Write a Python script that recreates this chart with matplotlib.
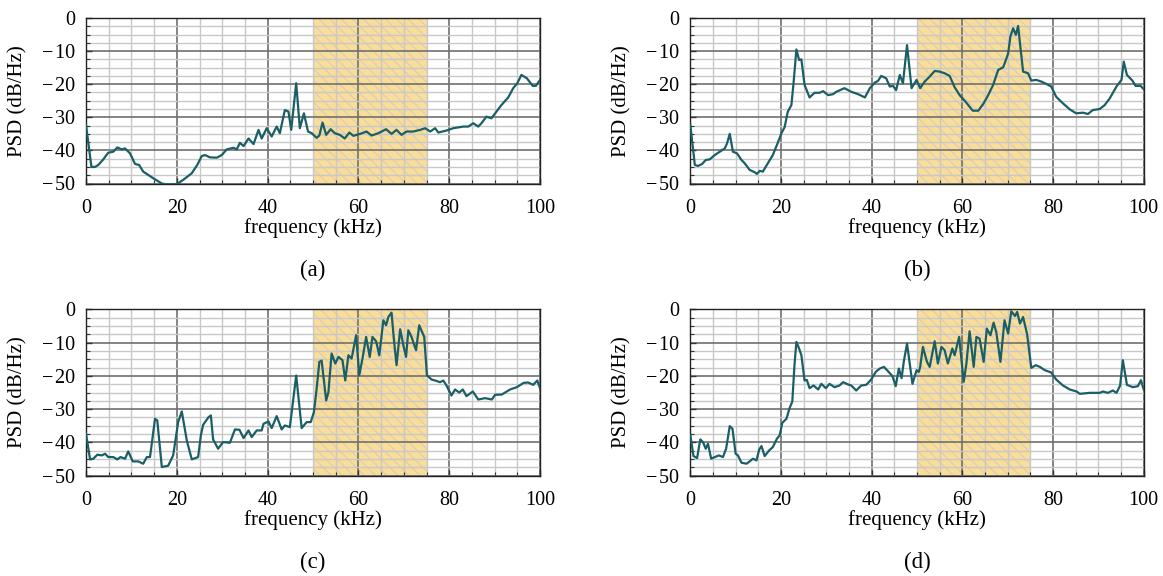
import matplotlib
matplotlib.use("Agg")
import matplotlib.pyplot as plt
from matplotlib.ticker import MultipleLocator
import numpy as np

plt.rcParams['font.family'] = ['Liberation Serif', 'DejaVu Serif']
plt.rcParams['hatch.linewidth'] = 0.8
plt.rcParams['axes.unicode_minus'] = True

# ---------------- data ----------------
freq_a = [0, 1.2, 2, 2.7, 3.7, 4.9, 6, 6.9, 7.9, 8.6, 9.7, 10.8, 11.7, 12.6, 14.8, 16.7, 17.8, 20,
          21.4, 23.3, 24.5, 25.5, 26.2, 27.3, 28.8, 29.9, 31, 32.5, 33.2, 33.9, 34.7, 35.8, 36.9,
          38, 38.7, 39.8, 40.9, 42, 42.7, 43.8, 44.6, 45.2, 46.3, 47.1, 48.0, 48.9, 49.7, 50.8,
          51.4, 52.1, 52.9, 53.9, 54.8, 55.9, 57.0, 58.0, 58.9, 60.4, 61.8, 62.9, 64.4, 66.1,
          67.3, 68.4, 69.5, 70.6, 72.1, 73.6, 74.7, 75.8, 76.9, 77.6, 79.4, 80.9, 83.1, 84.2,
          85.3, 86.4, 87.1, 88.2, 89.3, 90.4, 91.5, 93, 94.1, 95, 95.9, 97.1, 98.4, 99.1, 100]
psd_a = [-32.3, -45, -45, -44.4, -42.9, -40.7, -40.4, -39.1, -39.7, -39.4, -40.9, -44.1, -44.4,
         -46.4, -48.4, -50, -50.3, -50.2, -48.9, -46.9, -44.4, -41.7, -41.4, -42.1, -42.2, -41.4,
         -39.7, -39.2, -39.7, -37.7, -38.7, -36.4, -38.1, -33.8, -36.4, -33.3, -35.8, -32.8,
         -34.8, -27.8, -28.3, -33.8, -19.7, -33.3, -28.8, -34.3, -34.8, -36.2, -35.5, -31.6,
         -35.3, -33.6, -34.8, -35.3, -36.4, -34.6, -35.6, -35, -34.3, -35.5, -34.8, -33.6, -35,
         -33.8, -35.3, -34.3, -34.3, -33.8, -33.3, -34.3, -33.3, -34.6, -34, -33.3, -32.8,
         -32.8, -31.8, -32.8, -31.8, -29.8, -30.3, -28.3, -26.3, -24, -21.2, -19.7, -17.2,
         -18.2, -20.5, -20.5, -18.7]

freq_b = [0, 1, 1.7, 2.6, 3.4, 4.3, 5.4, 6.5, 7.6, 8.1, 8.7, 9.4, 10.3, 11.3, 12, 13.1, 14.2,
          14.7, 15.3, 16, 17.1, 18.2, 19.3, 20.1, 20.8, 21.5, 22.3, 22.8, 23.4, 24, 24.5, 25.2,
          26.3, 27.4, 28.5, 29.3, 30.4, 31.5, 32.2, 34, 35.5, 37, 38.5, 39.6, 40.7, 41.4, 42.1,
          43.2, 44, 44.7, 45.4, 46.2, 46.9, 47.8, 48.8, 49.9, 50.7, 51.7, 52.8, 53.9, 55, 56.1,
          57.2, 58.3, 59.4, 60.9, 62.3, 63.5, 64.6, 65.7, 66.8, 67.9, 69, 69.6, 70.1, 70.6, 71.2,
          71.8, 72.3, 72.8, 73.4, 74.5, 75.2, 76.3, 77.4, 78.5, 79.6, 80.7, 82.2, 83.7, 85.1,
          86.6, 87.7, 88.8, 90.3, 91.4, 92.5, 94, 95.1, 95.6, 96.3, 97.5, 98.2, 99.3, 100]
psd_b = [-32.3, -44.4, -44.7, -44.1, -42.9, -42.7, -41.4, -40.4, -39.4, -37.9, -35, -40.4,
         -40.9, -42.9, -43.9, -45.9, -46.6, -47.1, -46.2, -46.4, -43.9, -41.4, -37.7, -34.8,
         -33, -28.3, -26.3, -19.2, -9.5, -12.7, -12.5, -20.2, -24, -22.6, -22.6, -22.1, -23.3,
         -23, -22.3, -21.2, -22.3, -23, -24, -21.2, -19.5, -19, -17.5, -18.2, -20.7, -20.5,
         -21.8, -17.2, -19.7, -8.2, -21.2, -18.7, -21.2, -19.2, -17.7, -16, -16.2, -16.7, -17.5,
         -20.9, -23.3, -25.6, -28, -28, -26, -23.3, -20.2, -15.7, -14.9, -12.7, -10.7, -5.6,
         -3.1, -5.1, -2.4, -8.7, -16.2, -16.7, -18.9, -18.7, -19.2, -19.9, -20.7, -23.8, -25.8,
         -27.6, -28.8, -28.6, -29, -27.8, -27.5, -26.3, -24.3, -20.7, -18.7, -13.2, -17.2,
         -18.9, -20.5, -20.5, -21.5]

freq_c = [0, 0.9, 1.6, 2.5, 3.5, 4.2, 4.9, 6, 6.9, 7.6, 8.6, 9.3, 10.3, 11.5, 12.6, 13.4, 14.1,
          15.2, 15.7, 16.7, 18.1, 19.2, 20.3, 21.1, 22.2, 23.3, 24.7, 25.3, 25.8, 27, 27.5, 28,
          29.1, 30.2, 31.7, 32.8, 33.8, 34.7, 35.8, 36.5, 37.6, 38.7, 39.1, 40.2, 40.9, 42,
          43.1, 43.8, 44.9, 46.3, 47.5, 48.6, 49.5, 50.2, 50.8, 51.4, 51.9, 52.9, 53.4, 54.1,
          54.9, 55.6, 56.5, 57.1, 57.8, 58.5, 59.5, 60.2, 60.9, 61.7, 62.5, 63.1, 63.9, 64.6,
          65.5, 66.1, 66.6, 67.3, 67.8, 68.4, 69.2, 69.9, 70.5, 71, 71.7, 72.7, 73.4, 74.5,
          75.1, 76.1, 76.9, 78, 78.7, 79.4, 80.5, 81.3, 82.2, 83, 83.8, 85.2, 86.4, 87.9, 89.4,
          90.1, 91.6, 93.4, 94.9, 96.4, 97.4, 98.5, 99.4, 100]
psd_c = [-37.4, -45.1, -44.9, -43.7, -43.9, -43.4, -44.4, -44.4, -45.1, -44.4, -44.9, -42.7,
         -45.7, -45.7, -46.4, -44.4, -44.4, -32.9, -33.4, -47.4, -47, -43.9, -33.9, -30.7,
         -39.4, -45.1, -44.4, -37.9, -34.7, -32.4, -31.9, -39.1, -41.9, -39.9, -40.1, -36.1,
         -36.2, -38.7, -36.4, -38.4, -36.4, -36.4, -34.4, -33.7, -35.7, -32.1, -36.1, -34.9,
         -35.4, -19.9, -35.7, -33.9, -33.9, -30.9, -23.9, -15.8, -15.4, -27.4, -24.9, -13.3,
         -16.3, -14.3, -15.3, -21.4, -13.8, -14.8, -7.8, -19.8, -14.8, -8.3, -14.3, -8.3, -9.6,
         -13.8, -3.3, -4.8, -2.3, -1, -8.8, -16.8, -6, -10.8, -14.3, -6.3, -8.3, -12.3, -4.8,
         -8.3, -19.8, -21.1, -21.4, -21.9, -21.4, -22.9, -25.9, -24.1, -25, -24.1, -26.1, -24.7,
         -27.1, -26.7, -27.1, -25.7, -25.6, -24.1, -23.4, -22.1, -22, -22.7, -21.4, -23.7]

freq_d = [0, 0.7, 1.5, 2.2, 2.8, 3.4, 3.9, 4.6, 5.4, 6.3, 7.2, 7.9, 8.7, 9.3, 10, 10.5, 11.3,
          12.4, 13.1, 13.8, 14.6, 15.2, 15.7, 16.4, 17.4, 18.2, 19.1, 19.7, 20.3, 21.2, 21.9,
          22.5, 23, 23.4, 24, 24.5, 25.2, 25.7, 26.3, 27.2, 28.2, 28.9, 29.9, 30.7, 31.8, 32.9,
          33.7, 34.8, 35.5, 36.6, 37.7, 38.8, 39.9, 40.9, 41.8, 42.7, 43.6, 44.6, 45.3, 46,
          46.6, 47.1, 47.8, 49, 49.9, 50.4, 50.7, 51.3, 52.2, 52.8, 53.9, 54.6, 55.4, 56.1,
          56.8, 57.8, 58.3, 59.3, 60.3, 60.9, 61.6, 62.5, 63.1, 63.8, 64.7, 65.4, 66.2, 66.9,
          67.5, 68.4, 69.3, 70.1, 70.8, 71.6, 72.1, 72.7, 73.4, 74.3, 75.2, 76.2, 77.1, 78.2,
          79.6, 80.7, 82.2, 83.7, 85.2, 85.9, 88.1, 90.3, 91, 92.1, 93.2, 94, 94.8, 95.4, 96.3,
          97.6, 98.7, 99.4, 100]
psd_d = [-37.7, -44.1, -44.7, -39.1, -39.9, -41.9, -40.4, -44.9, -44.4, -43.9, -44.4, -41.9,
         -35.1, -35.9, -43.4, -43.9, -46.1, -46.4, -45.7, -44.9, -45.4, -42.1, -41.1, -44.1,
         -42.4, -41.4, -38.9, -37.9, -34.1, -32.9, -29.7, -27.7, -16.3, -9.8, -11.8, -13.8,
         -21.4, -21.2, -23.7, -22.9, -24.1, -22.4, -23.7, -22.4, -23.4, -22.9, -21.9, -22.6,
         -22.9, -24.4, -22.9, -22.7, -21.1, -18.8, -17.8, -17.3, -18.6, -20.1, -23.1, -17.8,
         -20.7, -15.6, -10.3, -22.4, -18.3, -18.8, -17.3, -11.3, -15.8, -17.3, -9.6, -16.3,
         -11.3, -12.3, -16.3, -11.8, -13.8, -8.3, -21.8, -16.3, -6.6, -17.3, -8.3, -8.8, -15.8,
         -5.8, -7.8, -4, -7, -15.8, -3.3, -7.3, -0.6, -2, -0.8, -4.3, -2.3, -7.6, -17.6, -16.8,
         -17.3, -18.3, -19, -21.1, -22.9, -24.1, -24.7, -25.4, -25.1, -25.1, -24.7, -25.1,
         -24.4, -25.1, -22.9, -15.3, -22.7, -23.4, -23.1, -21.3, -24.1]

band = (50, 75)
x_ticks = [0, 20, 40, 60, 80, 100]
y_ticks = [0, -10, -20, -30, -40, -50]
y_ticklabels = ['0', '\u2212\u200a10', '\u2212\u200a20', '\u2212\u200a30', '\u2212\u200a40', '\u2212\u200a50']
panel_labels = ['(a)', '(b)', '(c)', '(d)']

# ---------------- styling ----------------
W, H = 1163, 576
fig = plt.figure(figsize=(W / 100, H / 100), dpi=100)
line_color = '#1a5f66'
fill_color = '#f9de98'
hatch_color = '#dcc8c4'
fs = 14.5

boxes = [(86, 18, 540, 183.5), (690.3, 18, 1143.7, 183.5),
         (86, 309.3, 540, 475.7), (690.3, 309.3, 1143.7, 475.7)]
series = [(freq_a, psd_a), (freq_b, psd_b), (freq_c, psd_c), (freq_d, psd_d)]
label_y = [270, 270, 562, 562]

for (x0, y0, x1, y1), (fx, py), lab, ly in zip(boxes, series, panel_labels, label_y):
    ax = fig.add_axes([x0 / W, 1 - y1 / H, (x1 - x0) / W, (y1 - y0) / H])
    ax.set_xlim(0, 100)
    ax.set_ylim(-50, 0)
    ax.axvspan(band[0], band[1], facecolor=fill_color, edgecolor=hatch_color,
               hatch='\\\\\\', linewidth=0, zorder=0)
    ax.xaxis.set_minor_locator(MultipleLocator(5))
    ax.yaxis.set_minor_locator(MultipleLocator(2.5))
    ax.grid(which='minor', color='#c8c8c8', linewidth=1.0, zorder=1)
    ax.grid(which='major', color='#707070', linewidth=1.2, zorder=1)
    ax.set_axisbelow(True)
    ax.set_xticks(x_ticks)
    ax.set_yticks(y_ticks)
    ax.set_yticklabels(y_ticklabels)
    ax.tick_params(which='both', direction='in', labelsize=fs, color='#333333')
    ax.tick_params(which='major', length=4, width=1)
    ax.tick_params(which='minor', length=3, width=0.8)
    ax.tick_params(axis='x', pad=11)
    ax.tick_params(axis='y', pad=8)
    for s in ax.spines.values():
        s.set_linewidth(1.0)
        s.set_color('#222222')
    ax.plot(fx, py, color=line_color, linewidth=1.6, zorder=3, clip_on=True)
    ax.set_xlabel('frequency (kHz)', fontsize=fs + 0.5)
    ax.set_ylabel('PSD (dB/Hz)', fontsize=fs + 0.5)
    h = y1 - y0
    w = x1 - x0
    ax.xaxis.set_label_coords(0.5, -(218 - y1) / h if False else -(218 - 183.5) / 165.5)
    ax.yaxis.set_label_coords(-(86 - 27) / 454, 0.5)
    fig.text((x0 + x1) / 2 / W, 1 - ly / H, lab, ha='center', va='center', fontsize=fs + 2)

fig.savefig('out.png', dpi=100)
